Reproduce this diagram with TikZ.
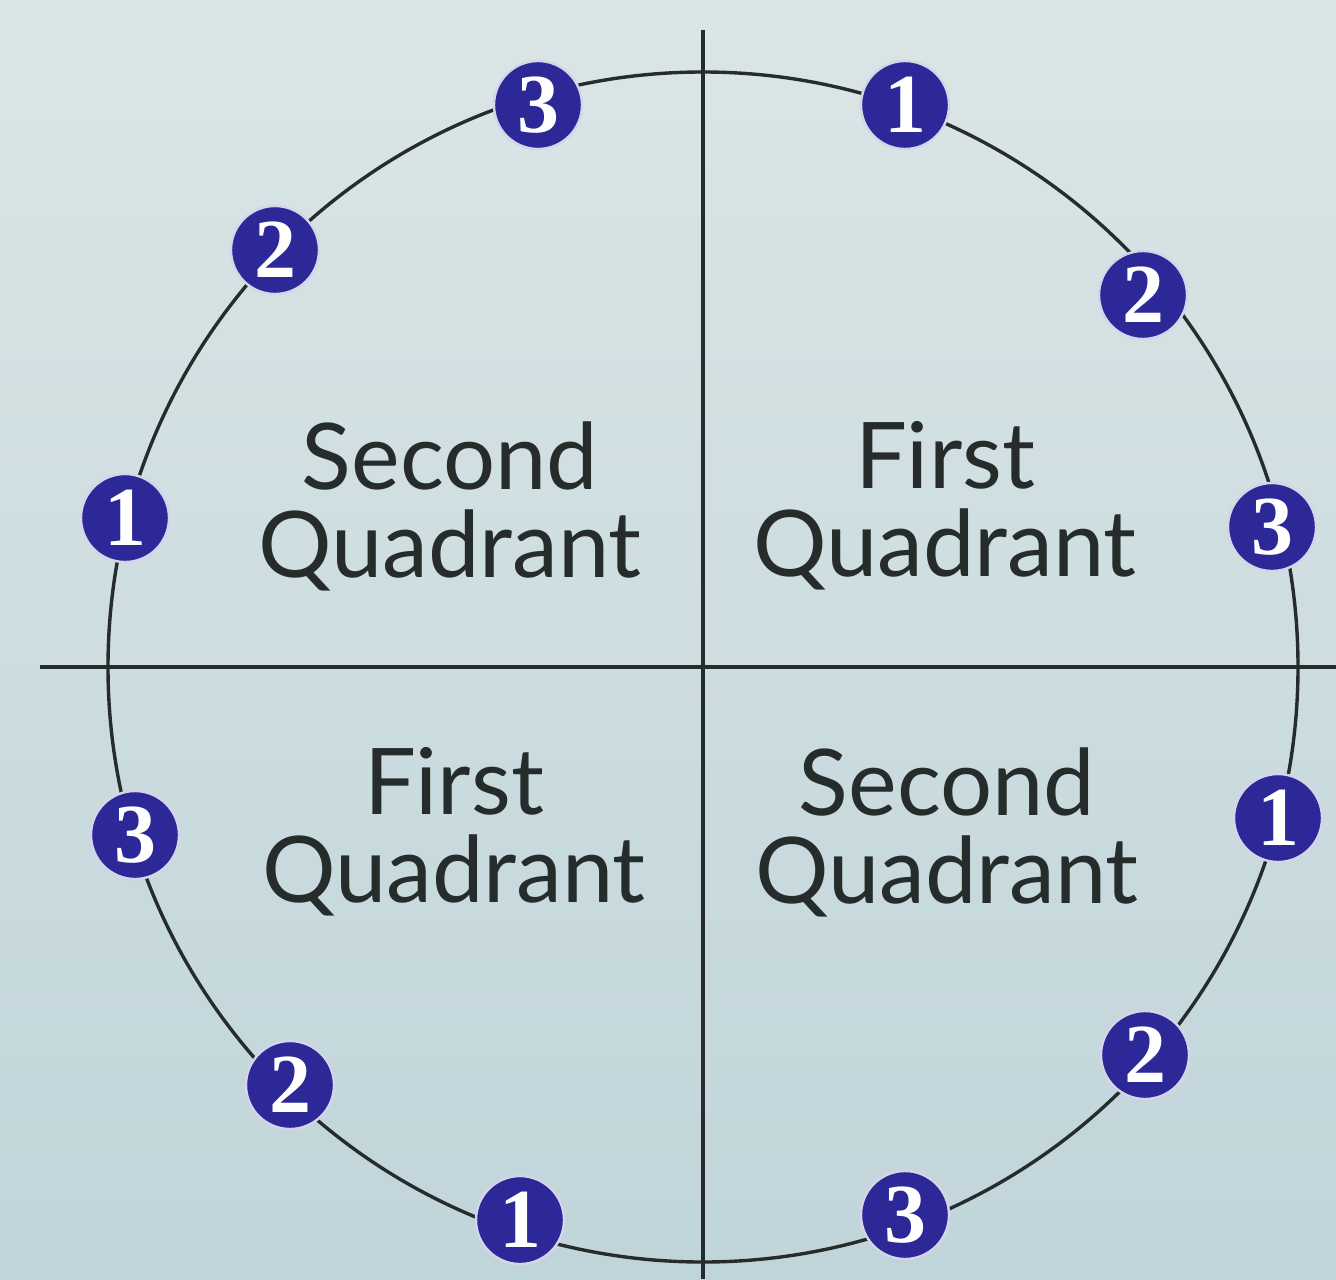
\documentclass[tikz,border=0pt]{standalone}
\usepackage{fontspec}
\newfontfamily\quadfont{Lato}
\newfontfamily\digitfont{Liberation Serif}
\usetikzlibrary{calc}
\definecolor{bgtop}{RGB}{218,229,230}
\definecolor{bgbot}{RGB}{192,213,218}
\definecolor{badgeblue}{RGB}{44,40,152}
\definecolor{inkgray}{RGB}{38,44,44}
\tikzset{
  badge/.style={circle,fill=badgeblue,draw=white!80!badgeblue,line width=1.2pt,
    minimum size=44pt,inner sep=0pt,text=white,
    font=\digitfont\bfseries\fontsize{42}{42}\selectfont},
  quadlabel/.style={align=center,inner sep=0pt,text=inkgray,
    font=\quadfont\fontsize{46}{44}\selectfont}
}

\begin{document}
\begin{tikzpicture}[x=0.5pt,y=-0.5pt]
\shade[top color=bgtop,bottom color=bgbot] (0,0) rectangle (1336,1279);
\useasboundingbox (0,0) rectangle (1336,1279);
\coordinate (O) at (703,667);
\coordinate (W) at (40,667); \coordinate (E) at (1336,667);
\coordinate (N) at (703,30); \coordinate (S) at (703,1279);
\draw[inkgray,line width=1.9pt] (W)--(E);
\draw[inkgray,line width=1.9pt] (N)--(S);
\draw[inkgray,line width=1.7pt] (O) circle [radius=595];
% quadrant labels
\node[quadlabel] (q2top) at (450,506) {Second\\Quadrant};
\node[quadlabel] (q1top) at (945,506) {First\\Quadrant};
\node[quadlabel] (q1bot) at (454,832) {First\\Quadrant};
\node[quadlabel] (q2bot) at (947,832) {Second\\Quadrant};
% numbered points
\node[badge] (tl3) at (538,105) {3};
\node[badge] (tl2) at (275,250) {2};
\node[badge] (tl1) at (125,518) {1};
\node[badge] (tr1) at (905,105) {1};
\node[badge] (tr2) at (1143,295) {2};
\node[badge] (tr3) at (1272,527) {3};
\node[badge] (bl3) at (135,835) {3};
\node[badge] (bl2) at (290,1085) {2};
\node[badge] (bl1) at (520,1220) {1};
\node[badge] (br1) at (1278,818) {1};
\node[badge] (br2) at (1145,1055) {2};
\node[badge] (br3) at (905,1215) {3};
\end{tikzpicture}
\end{document}
